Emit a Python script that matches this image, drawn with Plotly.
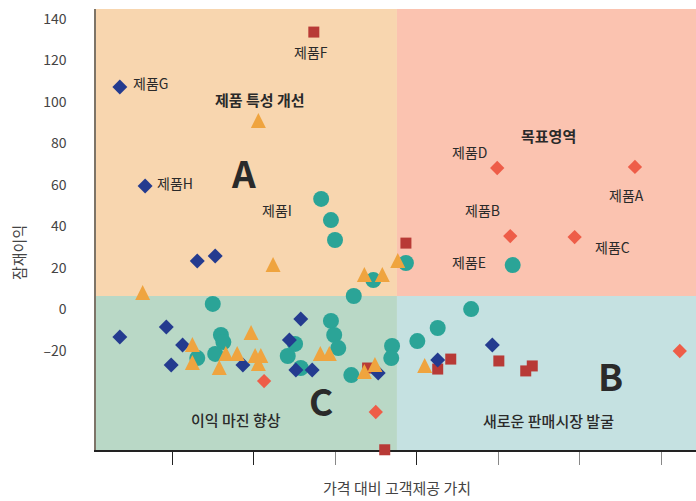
import plotly.graph_objects as go

# ---------------------------------------------------------------- data
# navy diamonds
navy_x = [3.6, 6.7, 13.1, 15.3, 3.6, 9.3, 11.3, 9.9, 18.7, 24.4, 25.8, 25.2, 27.2, 35.3, 49.3, 42.6]
navy_y = [107.2, 59.5, 23.4, 25.8, -13.3, -8.4, -17.1, -26.7, -26.7, -14.7, -4.6, -29.2, -29.2, -30.6, -17.1, -24.3]

# coral diamonds
coral_x = [66.8, 51.5, 59.4, 49.9, 21.3, 35.0, 72.3]
coral_y = [68.7, 35.4, 34.9, 68.2, -34.5, -49.4, -20.0]

# red squares
red_x = [27.4, 38.7, 34.0, 44.2, 42.6, 50.1, 54.2, 53.4, 36.1]
red_y = [133.7, 32.0, -28.2, -23.9, -28.7, -24.8, -27.2, -29.6, -67.6]

# teal circles
teal_x = [28.3, 29.5, 30.0, 15.0, 16.0, 16.3, 15.3, 13.1, 29.5, 29.9, 30.4, 25.1,
          24.2, 25.8, 32.0, 32.3, 34.7, 38.7, 37.0, 36.9, 51.8, 46.7, 42.6, 40.1]
teal_y = [53.3, 43.1, 33.5, 2.7, -12.3, -15.7, -21.4, -23.4, -5.5, -12.3, -18.6, -16.6,
          -22.4, -28.2, -31.6, 6.5, 14.2, 22.4, -17.6, -23.4, 21.4, 0.2, -8.9, -15.2]

# orange triangles (value = apex of the marker)
orange_x = [20.6, 6.4, 22.4, 12.5, 12.5, 15.8, 16.6, 18.0, 19.7, 20.2, 20.9, 20.6,
            28.2, 29.3, 33.6, 35.8, 37.7, 33.6, 34.9, 41.0]
orange_y = [94.7, 11.8, 25.3, -13.3, -21.9, -24.3, -17.6, -17.6, -7.5, -18.6, -18.6, -22.4,
            -17.6, -17.6, 20.5, 20.5, 27.2, -26.3, -22.9, -23.4]

y_tick_vals = [-20, 0, 20, 40, 60, 80, 100, 120, 140]
y_tick_text = ["–20", "0", "20", "40", "60", "80", "100", "120", "140"]

x_title = "가격 대비 고객제공 가치"
y_title = "잠재이익"

product_names = ["제품F", "제품G", "제품H", "제품I", "제품D", "제품A", "제품B", "제품C", "제품E"]

# ------------------------------------------------------------ geometry
W, H = 696, 501
ML, MR, MT, MB = 96, 0, 9, 51
X_RANGE = [0.675, 74.29]
Y_RANGE = [-67.71, 144.82]
X_SPLIT, Y_SPLIT = 37.6, 6.5

FONT = "Noto Sans CJK KR, Noto Sans, sans-serif"
TEXT = "#2a2a2a"


def paper(px, py):
    """Pixel position on the canvas -> paper fraction."""
    return (px - ML) / (W - ML - MR), (H - MB - py) / (H - MT - MB)


def poly_path(points):
    pts = [paper(x, y) for x, y in points]
    return "M " + " L ".join(f"{x:.4f},{y:.4f}" for x, y in pts) + " Z"


fig = go.Figure()


def add_series(xs, ys, symbol, size, color, clip=True):
    fig.add_trace(go.Scatter(
        x=xs, y=ys, mode="markers", showlegend=False, hoverinfo="skip",
        cliponaxis=clip,
        marker=dict(symbol=symbol, size=size, color=color, line=dict(width=0)),
    ))


add_series(red_x, red_y, "square", 11, "#B83A36", clip=False)
add_series(teal_x, teal_y, "circle", 16, "#2BA497")
add_series(navy_x, navy_y, "diamond", 11.5, "#243B8F")
add_series(orange_x, orange_y, "arrow-up", 15, "#EFA43F")
add_series(coral_x, coral_y, "diamond", 11, "#EE5D48")

# quadrant backgrounds
quads = [
    (X_RANGE[0], X_SPLIT, Y_SPLIT, Y_RANGE[1], "#F8D6AF"),
    (X_SPLIT, X_RANGE[1], Y_SPLIT, Y_RANGE[1], "#FBC3B0"),
    (X_RANGE[0], X_SPLIT, Y_RANGE[0], Y_SPLIT, "#B9D8C6"),
    (X_SPLIT, X_RANGE[1], Y_RANGE[0], Y_SPLIT, "#C5E1E1"),
]
shapes = [dict(type="rect", xref="x", yref="y", x0=a, x1=b, y0=c, y1=d,
               fillcolor=col, line=dict(width=0), layer="below") for a, b, c, d, col in quads]

# white direction arrows
arrows = [
    [(353, 116), (420, 116), (420, 103), (449, 135), (420, 167), (420, 153), (353, 153)],
    [(224, 335), (224, 285), (211, 285), (242.5, 256), (274, 285), (261, 285), (261, 335)],
    [(545, 335), (545, 285), (533, 285), (564.5, 256), (596, 285), (583, 285), (583, 335)],
]
for pts in arrows:
    shapes.append(dict(type="path", xref="paper", yref="paper", path=poly_path(pts),
                       fillcolor="white", line=dict(width=0), layer="below"))

# text labels
label_pos = [(311, 52), (150, 83), (175, 183), (277, 210), (469, 152),
             (626, 195), (482, 210), (612, 247), (469, 262)]
texts = [(name, x, y, 14, 400) for name, (x, y) in zip(product_names, label_pos)]
texts += [
    ("제품 특성 개선", 260, 99, 15, 700),
    ("목표영역", 548, 135, 15, 700),
    ("이익 마진 향상", 236, 419, 15, 500),
    ("새로운 판매시장 발굴", 548, 420, 15, 500),
    ("A", 243, 172, 37, 700),
    ("B", 610, 375, 37, 700),
    ("C", 321, 400, 37, 700),
]
annotations = []
for t, x, y, size, weight in texts:
    px_, py_ = paper(x, y)
    annotations.append(dict(text=t, x=px_, y=py_, xref="paper", yref="paper",
                            xanchor="center", yanchor="middle", showarrow=False,
                            font=dict(family=FONT, size=size, color=TEXT, weight=weight)))

ax_, ay_ = paper(397, 500)
annotations.append(dict(text=x_title, x=ax_, y=ay_, xref="paper", yref="paper",
                        xanchor="center", yanchor="bottom", showarrow=False,
                        font=dict(family=FONT, size=15, color="#444")))
ax_, ay_ = paper(18, 253)
annotations.append(dict(text=y_title, x=ax_, y=ay_, xref="paper", yref="paper",
                        xanchor="center", yanchor="middle", showarrow=False, textangle=-90,
                        font=dict(family=FONT, size=15, color="#444")))

fig.update_layout(
    width=W, height=H,
    margin=dict(l=ML, r=MR, t=MT, b=MB, pad=0),
    paper_bgcolor="white", plot_bgcolor="white",
    shapes=shapes, annotations=annotations,
    xaxis=dict(
        range=X_RANGE, showgrid=False, zeroline=False, showticklabels=False,
        showline=True, linecolor="#222", linewidth=1.5, layer="below traces",
        tickmode="array", tickvals=[10, 20, 40], ticks="outside", ticklen=13,
        tickwidth=1.4, tickcolor="#222",
        minor=dict(tickmode="array", tickvals=[30, 50, 60, 70], ticks="outside",
                   ticklen=13, tickwidth=1.4, tickcolor="#888"),
    ),
    yaxis=dict(
        range=Y_RANGE, showgrid=False, zeroline=False,
        showline=True, linecolor="#7d7468", linewidth=1.5, layer="below traces",
        tickmode="array", tickvals=y_tick_vals, ticktext=y_tick_text,
        ticks="outside", ticklen=16, tickcolor="rgba(0,0,0,0)", ticklabelstandoff=9,
        tickfont=dict(family=FONT, size=14, color="#444"),
    ),
    yaxis2=dict(
        overlaying="y", side="left", anchor="x", range=[-0.593, 8.119],
        showgrid=False, zeroline=False, showline=False, showticklabels=False,
        tickmode="array", tickvals=[2, 5, 8], ticks="outside", ticklen=16,
        tickwidth=1.4, tickcolor="#222",
        minor=dict(tickmode="array", tickvals=[0, 1, 3, 4, 6, 7], ticks="outside",
                   ticklen=16, tickwidth=1.4, tickcolor="#888"),
    ),
)

fig.write_html("out.html")
